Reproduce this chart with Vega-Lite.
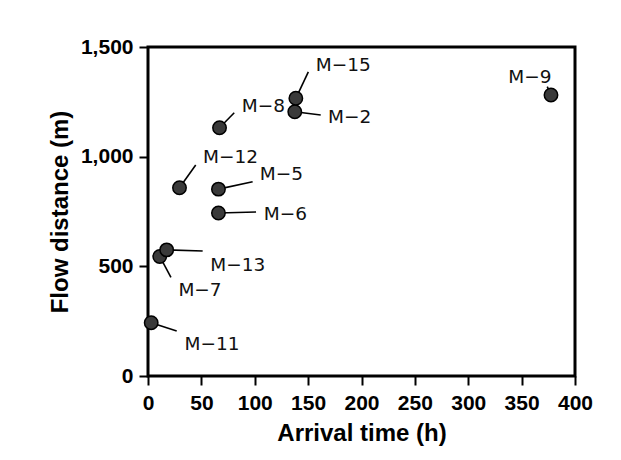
{
  "$schema": "https://vega.github.io/schema/vega-lite/v6.json",
  "width": 427,
  "height": 329,
  "autosize": "none",
  "padding": {"left": 148, "top": 47, "right": 46, "bottom": 84},
  "background": "white",
  "data": {
    "values": [
      {"id": "M−2", "t": 137.5, "d": 1205, "lx": 188.8, "ly": 1179, "ex": 161.8, "ey": 1190},
      {"id": "M−5", "t": 66, "d": 852, "lx": 124.9, "ly": 920, "ex": 98, "ey": 886},
      {"id": "M−6", "t": 66, "d": 743, "lx": 128.6, "ly": 737, "ex": 101.2, "ey": 748},
      {"id": "M−7", "t": 11, "d": 545, "lx": 48.7, "ly": 392, "ex": 21.5, "ey": 450},
      {"id": "M−8", "t": 67, "d": 1132, "lx": 108, "ly": 1231, "ex": 80.8, "ey": 1200},
      {"id": "M−9", "t": 377.5, "d": 1281, "lx": 357.8, "ly": 1365, "ex": 374, "ey": 1319},
      {"id": "M−11", "t": 3, "d": 243, "lx": 60, "ly": 146, "ex": 26.9, "ey": 205},
      {"id": "M−12", "t": 29.5, "d": 858, "lx": 77.3, "ly": 997, "ex": 44.7, "ey": 962},
      {"id": "M−13", "t": 17.5, "d": 575, "lx": 84, "ly": 506, "ex": 51.2, "ey": 570},
      {"id": "M−15", "t": 138.5, "d": 1266, "lx": 183, "ly": 1418, "ex": 150.2, "ey": 1387}
    ]
  },
  "encoding": {
    "x": {
      "field": "t",
      "type": "quantitative",
      "scale": {"domain": [0, 400], "nice": false, "zero": false},
      "axis": {
        "title": "Arrival time (h)",
        "values": [0, 50, 100, 150, 200, 250, 300, 350, 400],
        "grid": false,
        "domain": false,
        "labelFlush": false,
        "labelOverlap": false,
        "tickSize": 9,
        "tickWidth": 2,
        "tickColor": "black",
        "labelPadding": 7,
        "labelFont": "Liberation Sans",
        "labelFontWeight": "bold",
        "labelFontSize": 21,
        "labelColor": "black",
        "titleFont": "Liberation Sans",
        "titleFontWeight": "bold",
        "titleFontSize": 24,
        "titleColor": "black",
        "titleX": 213.5,
        "titleY": 64,
        "titleAlign": "center",
        "titleBaseline": "alphabetic"
      }
    },
    "y": {
      "field": "d",
      "type": "quantitative",
      "scale": {"domain": [0, 1500], "nice": false, "zero": false},
      "axis": {
        "title": "Flow distance (m)",
        "values": [0, 500, 1000, 1500],
        "format": ",d",
        "grid": false,
        "domain": false,
        "labelFlush": false,
        "labelOverlap": false,
        "tickSize": 9,
        "tickWidth": 2,
        "tickColor": "black",
        "labelPadding": 6,
        "labelFont": "Liberation Sans",
        "labelFontWeight": "bold",
        "labelFontSize": 21,
        "labelColor": "black",
        "titleFont": "Liberation Sans",
        "titleFontWeight": "bold",
        "titleFontSize": 24,
        "titleColor": "black",
        "titleAngle": -90,
        "titleX": -88,
        "titleY": 164.5,
        "titleAlign": "center",
        "titleBaseline": "middle"
      }
    }
  },
  "layer": [
    {
      "mark": {"type": "rule", "color": "black", "strokeWidth": 1.6},
      "encoding": {
        "x2": {"field": "ex"},
        "y2": {"field": "ey"}
      }
    },
    {
      "mark": {"type": "point", "shape": "circle", "filled": true, "size": 180, "fill": "#3a3a3a", "stroke": "black", "strokeWidth": 1.5, "opacity": 1}
    },
    {
      "mark": {"type": "text", "font": "DejaVu Sans", "fontSize": 18.5, "color": "#111", "align": "center", "baseline": "middle"},
      "encoding": {
        "x": {"field": "lx", "type": "quantitative"},
        "y": {"field": "ly", "type": "quantitative"},
        "text": {"field": "id"}
      }
    }
  ],
  "config": {
    "view": {"stroke": "black", "strokeWidth": 3}
  }
}
